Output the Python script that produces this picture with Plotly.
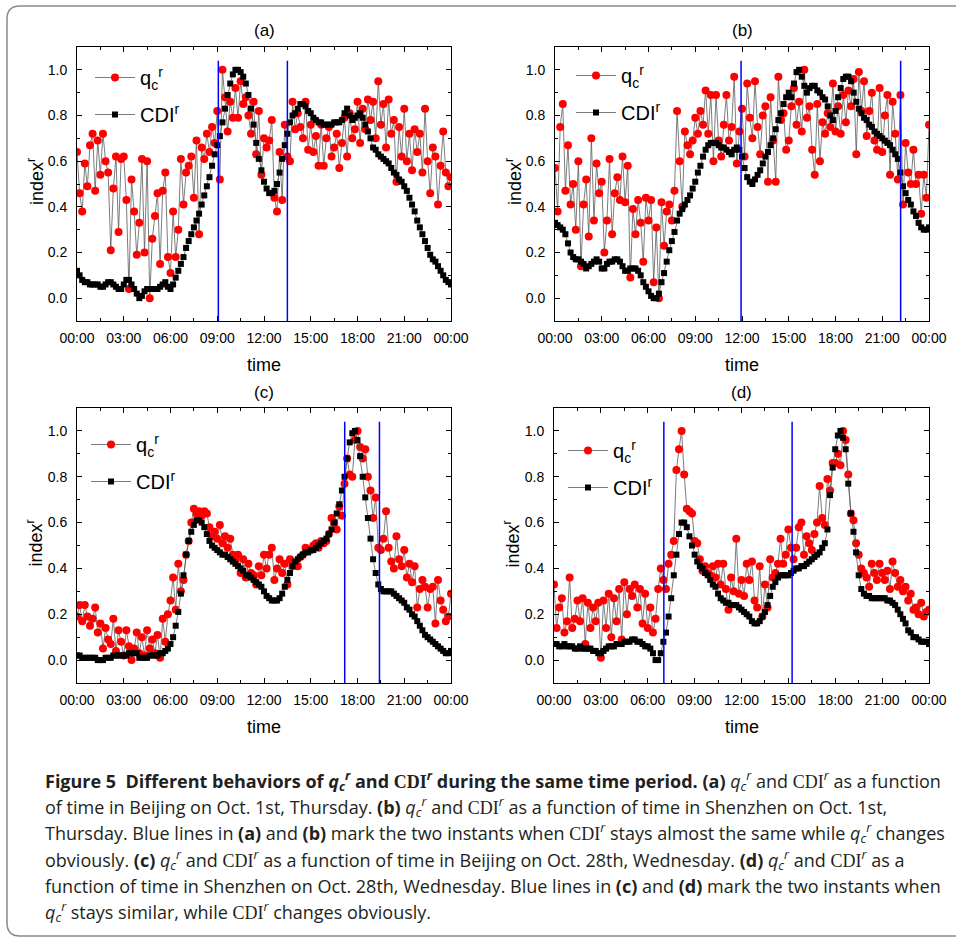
import plotly.graph_objects as go

W, H = 956, 937

# time axis: 10-minute sampling over one day, in hours
times = [i / 6 for i in range(145)]
tick_hours = [0, 3, 6, 9, 12, 15, 18, 21, 24]
tick_text = ["00:00", "03:00", "06:00", "09:00", "12:00", "15:00", "18:00", "21:00", "00:00"]

# ---------------- panel (a): Beijing, Oct. 1st ----------------
a_q = [
    0.64, 0.46, 0.38, 0.59, 0.49, 0.67,
    0.72, 0.47, 0.69, 0.54, 0.72, 0.60,
    0.55, 0.21, 0.48, 0.62, 0.29, 0.61,
    0.62, 0.43, 0.04, 0.52, 0.38, 0.19,
    0.33, 0.61, 0.20, 0.60, 0.00, 0.26,
    0.36, 0.46, 0.15, 0.47, 0.55, 0.18,
    0.11, 0.38, 0.18, 0.30, 0.61, 0.41,
    0.55, 0.58, 0.62, 0.44, 0.69, 0.28,
    0.66, 0.61, 0.72, 0.64, 0.75, 0.68,
    0.82, 0.52, 1.00, 0.88, 0.73, 0.86,
    0.79, 0.92, 0.79, 0.95, 0.85, 0.88,
    0.80, 0.72, 0.86, 0.63, 0.82, 0.54,
    0.70, 0.66, 0.69, 0.78, 0.44, 0.38,
    0.64, 0.43, 0.76, 0.62, 0.60, 0.86,
    0.74, 0.81, 0.75, 0.70, 0.86, 0.65,
    0.76, 0.64, 0.71, 0.58, 0.76, 0.58,
    0.70, 0.75, 0.62, 0.66, 0.72, 0.57,
    0.68, 0.79, 0.62, 0.81, 0.70, 0.74,
    0.86, 0.68, 0.83, 0.74, 0.87, 0.78,
    0.86, 0.70, 0.95, 0.76, 0.85, 0.66,
    0.87, 0.72, 0.78, 0.51, 0.75, 0.62,
    0.83, 0.60, 0.72, 0.56, 0.74, 0.64,
    0.72, 0.55, 0.83, 0.60, 0.46, 0.66,
    0.62, 0.41, 0.58, 0.73, 0.55, 0.49,
    0.53]
a_cdi = [
    0.12, 0.10, 0.08, 0.07, 0.07, 0.06,
    0.06, 0.06, 0.06, 0.05, 0.05, 0.06,
    0.07, 0.07, 0.06, 0.05, 0.04, 0.04,
    0.06, 0.08, 0.08, 0.06, 0.04, 0.02,
    0.00, 0.01, 0.03, 0.04, 0.04, 0.04,
    0.04, 0.04, 0.05, 0.06, 0.07, 0.05,
    0.04, 0.06, 0.09, 0.12, 0.15, 0.18,
    0.22, 0.25, 0.28, 0.31, 0.34, 0.37,
    0.41, 0.45, 0.49, 0.53, 0.58, 0.63,
    0.67, 0.71, 0.77, 0.83, 0.89, 0.94,
    0.98, 1.00, 1.00, 0.99, 0.97, 0.94,
    0.89, 0.83, 0.76, 0.68, 0.61, 0.56,
    0.51, 0.48, 0.46, 0.46, 0.47, 0.50,
    0.55, 0.61, 0.67, 0.72, 0.77, 0.80,
    0.81, 0.83, 0.85, 0.85, 0.84, 0.82,
    0.81, 0.79, 0.78, 0.77, 0.77, 0.76,
    0.76, 0.76, 0.76, 0.77, 0.77, 0.77,
    0.78, 0.81, 0.83, 0.80, 0.78, 0.79,
    0.80, 0.81, 0.79, 0.76, 0.73, 0.70,
    0.66, 0.65, 0.63, 0.62, 0.61, 0.60,
    0.59, 0.57, 0.55, 0.54, 0.52, 0.51,
    0.49, 0.47, 0.44, 0.41, 0.38, 0.34,
    0.31, 0.28, 0.25, 0.22, 0.19, 0.17,
    0.16, 0.14, 0.12, 0.10, 0.08, 0.07,
    0.06]
a_blue = [9.07, 13.5]

# ---------------- panel (b): Shenzhen, Oct. 1st ----------------
b_q = [
    0.57, 0.38, 0.75, 0.85, 0.47, 0.67,
    0.41, 0.50, 0.30, 0.60, 0.14, 0.41,
    0.52, 0.27, 0.70, 0.34, 0.59, 0.46,
    0.51, 0.20, 0.34, 0.61, 0.28, 0.46,
    0.53, 0.43, 0.62, 0.42, 0.58, 0.09,
    0.39, 0.28, 0.43, 0.33, 0.16, 0.44,
    0.34, 0.43, 0.07, 0.31, 0.00, 0.42,
    0.23, 0.38, 0.41, 0.34, 0.47, 0.82,
    0.60, 0.40, 0.73, 0.67, 0.63, 0.69,
    0.79, 0.72, 0.82, 0.76, 0.91, 0.72,
    0.89, 0.60, 0.89, 0.69, 0.62, 0.76,
    0.89, 0.69, 0.75, 0.97, 0.59, 0.73,
    0.83, 0.62, 0.94, 0.79, 0.70, 0.95,
    0.75, 0.63, 0.80, 0.84, 0.51, 0.88,
    0.69, 0.51, 0.97, 0.78, 0.81, 0.65,
    0.69, 0.84, 0.92, 0.76, 0.86, 0.73,
    1.00, 0.79, 0.84, 0.65, 0.54, 0.85,
    0.60, 0.77, 0.72, 0.81, 0.75, 0.94,
    0.73, 0.84, 0.72, 0.89, 0.77, 0.91,
    0.84, 0.96, 0.63, 0.99, 0.82, 0.95,
    0.71, 0.82, 0.90, 0.69, 0.65, 0.92,
    0.64, 0.80, 0.89, 0.54, 0.86, 0.72,
    0.52, 0.89, 0.41, 0.68, 0.55, 0.50,
    0.65, 0.50, 0.54, 0.37, 0.54, 0.44,
    0.76]
b_cdi = [
    0.33, 0.32, 0.31, 0.30, 0.28, 0.24,
    0.20, 0.18, 0.17, 0.17, 0.16, 0.15,
    0.13, 0.14, 0.15, 0.16, 0.17, 0.16,
    0.13, 0.13, 0.15, 0.16, 0.16, 0.17,
    0.17, 0.16, 0.14, 0.12, 0.12, 0.13,
    0.13, 0.13, 0.12, 0.10, 0.07, 0.05,
    0.03, 0.01, 0.00, 0.00, 0.02, 0.07,
    0.11, 0.16, 0.21, 0.25, 0.29, 0.34,
    0.37, 0.39, 0.41, 0.43, 0.45, 0.48,
    0.51, 0.55, 0.58, 0.62, 0.65, 0.67,
    0.68, 0.68, 0.68, 0.67, 0.66, 0.66,
    0.65, 0.64, 0.63, 0.65, 0.66, 0.65,
    0.62, 0.57, 0.53, 0.51, 0.50, 0.52,
    0.54, 0.56, 0.59, 0.62, 0.64, 0.67,
    0.70, 0.74, 0.78, 0.81, 0.85, 0.88,
    0.90, 0.88, 0.94, 0.99, 1.00, 0.97,
    0.93, 0.90, 0.92, 0.93, 0.93, 0.91,
    0.90, 0.88, 0.87, 0.84, 0.80, 0.78,
    0.82, 0.88, 0.92, 0.96, 0.97, 0.97,
    0.95, 0.90, 0.86, 0.83, 0.81, 0.79,
    0.78, 0.76, 0.75, 0.73, 0.72, 0.71,
    0.70, 0.69, 0.68, 0.67, 0.65, 0.63,
    0.61, 0.55, 0.49, 0.46, 0.43, 0.41,
    0.38, 0.36, 0.33, 0.31, 0.30, 0.30,
    0.31]
b_blue = [11.94, 22.18]

# ---------------- panel (c): Beijing, Oct. 28th ----------------
c_q = [
    0.19, 0.24, 0.17, 0.24, 0.19, 0.15,
    0.18, 0.23, 0.12, 0.16, 0.05, 0.14,
    0.09, 0.07, 0.18, 0.04, 0.13, 0.08,
    0.02, 0.13, 0.06, 0.00, 0.05, 0.12,
    0.03, 0.10, 0.02, 0.13, 0.05, 0.09,
    0.03, 0.11, 0.01, 0.18, 0.08, 0.20,
    0.26, 0.36, 0.22, 0.42, 0.30, 0.35,
    0.46, 0.52, 0.60, 0.66, 0.64, 0.65,
    0.63, 0.65, 0.64, 0.58, 0.54, 0.56,
    0.53, 0.59, 0.51, 0.54, 0.49, 0.53,
    0.46, 0.44, 0.46, 0.38, 0.44, 0.36,
    0.42, 0.38, 0.37, 0.33, 0.41, 0.37,
    0.46, 0.40, 0.46, 0.49, 0.35, 0.40,
    0.44, 0.38, 0.42, 0.33, 0.44, 0.41,
    0.42, 0.41, 0.45, 0.46, 0.49, 0.48,
    0.48, 0.50, 0.51, 0.49, 0.52, 0.51,
    0.52, 0.55, 0.62, 0.60, 0.57, 0.67,
    0.63, 0.77, 0.88, 0.81, 0.80, 0.96,
    1.00, 0.93, 0.88, 0.92, 0.80, 0.74,
    0.62, 0.71, 0.49, 0.48, 0.53, 0.65,
    0.49, 0.43, 0.40, 0.54, 0.44, 0.41,
    0.48, 0.36, 0.42, 0.34, 0.41, 0.23,
    0.31, 0.35, 0.32, 0.23, 0.31, 0.32,
    0.16, 0.35, 0.26, 0.22, 0.17, 0.19,
    0.29]
c_cdi = [
    0.02, 0.02, 0.01, 0.01, 0.01, 0.01,
    0.01, 0.01, 0.00, 0.00, 0.00, 0.01,
    0.01, 0.01, 0.02, 0.02, 0.02, 0.02,
    0.02, 0.02, 0.03, 0.03, 0.03, 0.03,
    0.01, 0.01, 0.01, 0.01, 0.02, 0.02,
    0.02, 0.02, 0.03, 0.03, 0.04, 0.05,
    0.07, 0.10, 0.15, 0.21, 0.29, 0.37,
    0.46, 0.52, 0.56, 0.59, 0.61, 0.61,
    0.60, 0.58, 0.55, 0.52, 0.50, 0.49,
    0.48, 0.47, 0.46, 0.46, 0.45, 0.44,
    0.43, 0.42, 0.41, 0.40, 0.39, 0.37,
    0.37, 0.36, 0.35, 0.34, 0.33, 0.32,
    0.30, 0.28, 0.27, 0.26, 0.26, 0.26,
    0.27, 0.29, 0.32, 0.35, 0.38, 0.41,
    0.43, 0.44, 0.45, 0.46, 0.47, 0.47,
    0.48, 0.48, 0.49, 0.50, 0.51, 0.52,
    0.53, 0.55, 0.57, 0.60, 0.64, 0.68,
    0.74, 0.80, 0.88, 0.95, 0.99, 1.00,
    0.96, 0.89, 0.80, 0.71, 0.62, 0.53,
    0.44, 0.38, 0.33, 0.31, 0.30, 0.30,
    0.30, 0.30, 0.29, 0.28, 0.27, 0.26,
    0.25, 0.23, 0.22, 0.20, 0.19, 0.17,
    0.15, 0.13, 0.11, 0.10, 0.09, 0.08,
    0.07, 0.06, 0.05, 0.04, 0.03, 0.03,
    0.04]
c_blue = [17.18, 19.41]

# ---------------- panel (d): Shenzhen, Oct. 28th ----------------
d_q = [
    0.33, 0.14, 0.23, 0.27, 0.12, 0.17,
    0.36, 0.14, 0.18, 0.26, 0.17, 0.27,
    0.07, 0.25, 0.14, 0.23, 0.17, 0.25,
    0.01, 0.26, 0.14, 0.29, 0.10, 0.27,
    0.17, 0.31, 0.09, 0.34, 0.20, 0.31,
    0.28, 0.33, 0.23, 0.31, 0.16, 0.29,
    0.14, 0.23, 0.12, 0.18, 0.31, 0.40,
    0.35, 0.31, 0.42, 0.46, 0.52, 0.83,
    0.92, 1.00, 0.81, 0.66, 0.65, 0.64,
    0.52, 0.51, 0.44, 0.39, 0.41, 0.38,
    0.37, 0.41, 0.36, 0.42, 0.33, 0.42,
    0.31, 0.22, 0.36, 0.30, 0.53, 0.29,
    0.35, 0.28, 0.42, 0.35, 0.43, 0.26,
    0.23, 0.41, 0.19, 0.33, 0.23, 0.44,
    0.36, 0.38, 0.42, 0.53, 0.42, 0.46,
    0.57, 0.49, 0.44, 0.49, 0.58, 0.60,
    0.46, 0.54, 0.51, 0.48, 0.55, 0.60,
    0.76, 0.62, 0.59, 0.79, 0.74, 0.86,
    0.86, 0.90, 0.85, 1.00, 0.96, 0.81,
    0.64, 0.61, 0.51, 0.46, 0.40, 0.38,
    0.36, 0.32, 0.42, 0.38, 0.35, 0.42,
    0.38, 0.35, 0.39, 0.31, 0.43, 0.38,
    0.32, 0.35, 0.30, 0.32, 0.26, 0.29,
    0.22, 0.23, 0.20, 0.25, 0.19, 0.21,
    0.22]
d_cdi = [
    0.07, 0.07, 0.06, 0.06, 0.07, 0.06,
    0.06, 0.06, 0.05, 0.05, 0.06, 0.05,
    0.05, 0.05, 0.05, 0.04, 0.04, 0.03,
    0.03, 0.04, 0.05, 0.06, 0.06, 0.06,
    0.07, 0.07, 0.07, 0.08, 0.08, 0.08,
    0.09, 0.09, 0.08, 0.08, 0.07, 0.06,
    0.06, 0.05, 0.03, 0.00, 0.00, 0.03,
    0.08, 0.12, 0.19, 0.27, 0.37, 0.46,
    0.55, 0.60, 0.60, 0.58, 0.54, 0.50,
    0.46, 0.43, 0.41, 0.40, 0.38, 0.37,
    0.35, 0.33, 0.32, 0.29, 0.27, 0.26,
    0.25, 0.25, 0.24, 0.24, 0.24, 0.23,
    0.22, 0.21, 0.20, 0.19, 0.17, 0.16,
    0.16, 0.17, 0.19, 0.21, 0.24, 0.28,
    0.32, 0.34, 0.36, 0.37, 0.37, 0.37,
    0.37, 0.38, 0.39, 0.40, 0.40, 0.41,
    0.41, 0.42, 0.43, 0.44, 0.45, 0.46,
    0.47, 0.49, 0.51, 0.57, 0.72, 0.84,
    0.92, 0.98, 1.00, 0.97, 0.92, 0.77,
    0.64, 0.56, 0.47, 0.37, 0.31, 0.29,
    0.28, 0.28, 0.27, 0.27, 0.27, 0.27,
    0.27, 0.27, 0.26, 0.26, 0.25, 0.24,
    0.22, 0.20, 0.18, 0.16, 0.13, 0.12,
    0.10, 0.10, 0.09, 0.08, 0.08, 0.08,
    0.07]
d_blue = [7.03, 15.24]

panel_labels = ["(a)", "(b)", "(c)", "(d)"]

# ---------------- layout geometry (pixels) ----------------
panels = [
    dict(q=a_q, cdi=a_cdi, blue=a_blue, px=(77, 451), py=(47, 321), leg=(90, 58)),
    dict(q=b_q, cdi=b_cdi, blue=b_blue, px=(555, 929), py=(47, 321), leg=(571, 56)),
    dict(q=c_q, cdi=c_cdi, blue=c_blue, px=(77, 451), py=(408, 683), leg=(86, 425)),
    dict(q=d_q, cdi=d_cdi, blue=d_blue, px=(554, 929), py=(408, 683), leg=(563, 431)),
]

FONT = "Liberation Sans, Arial, sans-serif"
QC_LEG = "q<sub>c</sub><sup>r</sup>"
CDI_LEG = "CDI<sup>r</sup>"


def fx(p):
    return p / W


def fy(p):
    return 1 - p / H


fig = go.Figure()
layout = dict(
    width=W, height=H, margin=dict(l=0, r=0, t=0, b=0, autoexpand=False),
    paper_bgcolor="white", plot_bgcolor="white",
    font=dict(family=FONT, color="black"),
    annotations=[], shapes=[],
)

for i, p in enumerate(panels):
    n = "" if i == 0 else str(i + 1)
    xa, ya, lg = "x" + n, "y" + n, "legend" + n
    fig.add_trace(go.Scatter(
        x=times[:len(p["q"])], y=p["q"], mode="lines+markers", name=QC_LEG,
        xaxis=xa, yaxis=ya, legend=lg, legendgroup="q" + n,
        line=dict(color="#5a5a5a", width=0.8),
        marker=dict(symbol="circle", size=8, color="#ff0000"),
    ))
    fig.add_trace(go.Scatter(
        x=times[:len(p["cdi"])], y=p["cdi"], mode="lines+markers", name=CDI_LEG,
        xaxis=xa, yaxis=ya, legend=lg, legendgroup="c" + n,
        line=dict(color="#5a5a5a", width=0.8),
        marker=dict(symbol="square", size=6, color="#000000"),
    ))
    axis_common = dict(
        showline=True, linecolor="black", linewidth=1, mirror="ticks",
        ticks="inside", ticklen=5, tickwidth=1, tickcolor="black",
        showgrid=False, zeroline=False, automargin=False,
        tickfont=dict(family=FONT, size=14, color="black"),
    )
    layout["xaxis" + n] = dict(
        axis_common, domain=[fx(p["px"][0]), fx(p["px"][1])], anchor=ya,
        range=[0, 24], tickvals=tick_hours, ticktext=tick_text, ticklabelstandoff=4,
        minor=dict(tickvals=[1.5, 4.5, 7.5, 10.5, 13.5, 16.5, 19.5, 22.5],
                   ticks="inside", ticklen=3, tickcolor="black"),
    )
    layout["yaxis" + n] = dict(
        axis_common, domain=[fy(p["py"][1]), fy(p["py"][0])], anchor=xa,
        range=[-0.1, 1.1], tick0=0, dtick=0.2, tickformat=".1f", ticklabelstandoff=6,
        minor=dict(tick0=0, dtick=0.1, ticks="inside", ticklen=3, tickcolor="black"),
    )
    layout[lg] = dict(
        x=fx(p["leg"][0]), y=fy(p["leg"][1]), xanchor="left", yanchor="top",
        bgcolor="rgba(0,0,0,0)", borderwidth=0,
        font=dict(family=FONT, size=20, color="black"),
        tracegroupgap=8, itemwidth=40,
    )
    cx = (p["px"][0] + p["px"][1]) / 2
    cy = (p["py"][0] + p["py"][1]) / 2
    # panel label
    layout["annotations"].append(dict(
        text=panel_labels[i], xref="paper", yref="paper",
        x=fx(cx), y=fy(p["py"][0] - 16),
        showarrow=False, font=dict(family=FONT, size=17), xanchor="center", yanchor="middle",
    ))
    # axis titles
    layout["annotations"].append(dict(
        text="time", xref="paper", yref="paper", x=fx(cx), y=fy(p["py"][1] + 44),
        showarrow=False, font=dict(family=FONT, size=18), xanchor="center", yanchor="middle",
    ))
    layout["annotations"].append(dict(
        text="index<sup>r</sup>", xref="paper", yref="paper", x=fx(p["px"][0] - 42), y=fy(cy - 2),
        textangle=-90, showarrow=False, font=dict(family=FONT, size=18),
        xanchor="center", yanchor="middle",
    ))
    for t in p["blue"]:
        layout["shapes"].append(dict(
            type="line", xref=xa, yref=ya, x0=t, x1=t, y0=-0.1, y1=1.04,
            line=dict(color="#0000ff", width=1.5), layer="above",
        ))

# frame of the figure box
path = (f"M {fx(975)},{fy(936)} L {fx(20)},{fy(936)} Q {fx(7)},{fy(936)} {fx(7)},{fy(923)} "
        f"L {fx(7)},{fy(19)} Q {fx(7)},{fy(6)} {fx(20)},{fy(6)} L {fx(975)},{fy(6)}")
layout["shapes"].append(dict(type="path", xref="paper", yref="paper", path=path,
                             line=dict(color="#8a8a8a", width=1.5)))

# caption
QC = "<i>q</i><sub><i>c</i></sub><sup><i>r</i></sup>"
CDI = "<span style='font-family:Liberation Serif'>CDI</span><sup><i>r</i></sup>"
caption_lines = [
    "<b>Figure 5  Different behaviors of " + QC + " and " + CDI + " during the same time period.</b> "
    "<b>(a)</b> " + QC + " and " + CDI + " as a function",
    "of time in Beijing on Oct. 1st, Thursday. <b>(b)</b> " + QC + " and " + CDI +
    " as a function of time in Shenzhen on Oct. 1st,",
    "Thursday. Blue lines in <b>(a)</b> and <b>(b)</b> mark the two instants when " + CDI +
    " stays almost the same while " + QC + " changes",
    "obviously. <b>(c)</b> " + QC + " and " + CDI + " as a function of time in Beijing on Oct. 28th, Wednesday. "
    "<b>(d)</b> " + QC + " and " + CDI + " as a",
    "function of time in Shenzhen on Oct. 28th, Wednesday. Blue lines in <b>(c)</b> and <b>(d)</b> "
    "mark the two instants when",
    QC + " stays similar, while " + CDI + " changes obviously.",
]
caption_y = [781, 807, 833, 860, 886, 912]
for txt, yy in zip(caption_lines, caption_y):
    layout["annotations"].append(dict(
        text=txt, xref="paper", yref="paper", x=fx(43), y=fy(yy),
        xanchor="left", yanchor="middle", showarrow=False, align="left",
        font=dict(family="Open Sans, Liberation Sans, sans-serif", size=18, color="#231f20"),
    ))

fig.update_layout(**layout)
fig.write_html("out.html")
